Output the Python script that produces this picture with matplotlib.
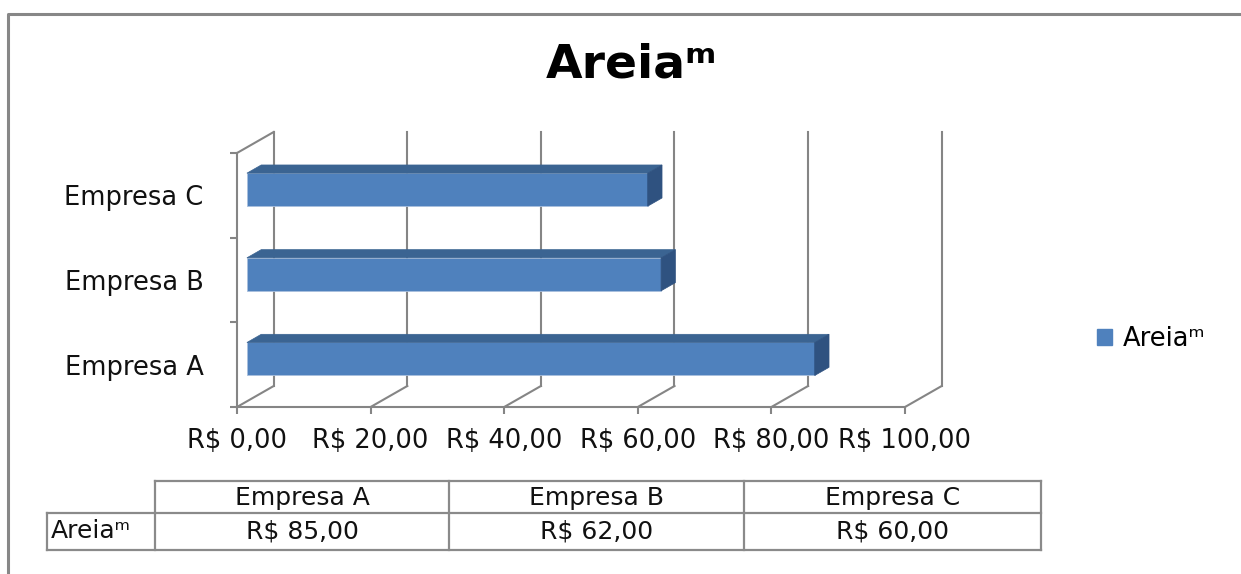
import numpy as np
import matplotlib.pyplot as plt
from matplotlib.patches import Patch, Polygon

plt.rcParams['font.family'] = ['DejaVu Sans']

categories = ['Empresa A', 'Empresa B', 'Empresa C']
values = [85, 62, 60]
series_name = 'Areia\u1d50'
x_ticks = [0, 20, 40, 60, 80, 100]


def brl(v):
    return 'R$ {:.2f}'.format(v).replace('.', ',')


W, H = 1241, 574
fig = plt.figure(figsize=(W / 100, H / 100), dpi=100)

# overlay in pixel coords for frame + data table
bg = fig.add_axes([0, 0, 1, 1], zorder=0)
bg.set_xlim(0, W)
bg.set_ylim(H, 0)
bg.axis('off')

frame_c = '#878787'
bg.plot([8, 8, W], [H, 14, 14], color=frame_c, lw=2.2, solid_capstyle='butt')

# front plane of the 3d plot
x0, x1, y_top, y_bot = 237, 905, 153, 407
ax = fig.add_axes([x0 / W, 1 - y_bot / H, (x1 - x0) / W, (y_bot - y_top) / H], zorder=2)
ax.set_xlim(0, 100)
ax.set_ylim(-0.5, 2.5)
ax.patch.set_alpha(0)

# depth of the box in data units
px_x = (x1 - x0) / 100.0
px_y = (y_bot - y_top) / 3.0
DX = 36.7 / px_x
DY = 21.0 / px_y

grid_c = '#858585'
lw = 1.5
ax.spines[['top', 'right']].set_visible(False)
for s in ['left', 'bottom']:
    ax.spines[s].set_color(grid_c)
    ax.spines[s].set_linewidth(lw)

# back wall verticals and floor diagonals
for v in x_ticks:
    ax.plot([v + DX, v + DX], [-0.5 + DY, 2.5 + DY], color=grid_c, lw=lw, clip_on=False, zorder=1)
    ax.plot([v, v + DX], [-0.5, -0.5 + DY], color=grid_c, lw=lw, clip_on=False, zorder=1)
ax.plot([0, DX], [2.5, 2.5 + DY], color=grid_c, lw=lw, clip_on=False, zorder=1)

# bars with a fake 3d look
t0, t1 = 0.27, 0.66
h = 33.0 / px_y
front_c, top_c, side_c = '#4F81BD', '#3B6492', '#2F5280'
ypos = np.arange(len(categories))
yb = ypos - h / 2 + t0 * DY
ax.barh(yb, values, height=h, left=t0 * DX, align='edge', color=front_c,
        edgecolor='#A9C0DE', linewidth=0.6, zorder=3, clip_on=False)
for yy, v in zip(yb, values):
    xl, xr = t0 * DX, v + t0 * DX
    ddx, ddy = (t1 - t0) * DX, (t1 - t0) * DY
    ax.add_patch(Polygon([(xl, yy + h), (xr, yy + h), (xr + ddx, yy + h + ddy), (xl + ddx, yy + h + ddy)],
                         closed=True, facecolor=top_c, edgecolor=top_c, lw=0.5, zorder=3, clip_on=False))
    ax.add_patch(Polygon([(xr, yy), (xr + ddx, yy + ddy), (xr + ddx, yy + h + ddy), (xr, yy + h)],
                         closed=True, facecolor=side_c, edgecolor=side_c, lw=0.5, zorder=3, clip_on=False))

fs = 18.5
txt_c = '#111111'
ax.set_xticks(x_ticks)
ax.set_xticklabels([brl(v) for v in x_ticks], fontsize=fs, color=txt_c)
ax.tick_params(axis='x', direction='out', length=5, width=lw, color=grid_c, pad=10)
ax.set_yticks(ypos)
ax.set_yticklabels(categories, fontsize=fs, color=txt_c)
ax.tick_params(axis='y', which='major', length=0, pad=24)
ax.set_yticks([-0.5, 0.5, 1.5, 2.5], minor=True)
ax.tick_params(axis='y', which='minor', direction='out', length=5, width=lw, color=grid_c)

fig.text(632 / W, 1 - 65 / H, series_name, ha='center', va='center',
         fontsize=34, fontweight='bold', color='black')

fig.legend(handles=[Patch(facecolor=front_c, edgecolor=front_c, label=series_name)],
           loc='center left', bbox_to_anchor=(1097 / W, 1 - 339 / H), frameon=False,
           fontsize=fs, handlelength=0.6, handleheight=0.6, handletextpad=0.4,
           borderpad=0, borderaxespad=0)

# data table
tc = '#8a8a8a'
cols = [155, 449, 744, 1041]
r0, r1, r2 = 481, 513, 550
rh_x = 47
bg.plot([cols[0], cols[-1]], [r0, r0], color=tc, lw=1.6)
bg.plot([rh_x, cols[-1]], [r1, r1], color=tc, lw=1.6)
bg.plot([rh_x, cols[-1]], [r2, r2], color=tc, lw=1.6)
for cx in cols:
    bg.plot([cx, cx], [r0, r2], color=tc, lw=1.6)
bg.plot([rh_x, rh_x], [r1, r2], color=tc, lw=1.6)
tfs = 18
for i, (cat, v) in enumerate(zip(categories, values)):
    cx = (cols[i] + cols[i + 1]) / 2
    bg.text(cx, (r0 + r1) / 2 + 1, cat, ha='center', va='center', fontsize=tfs, color=txt_c)
    bg.text(cx, (r1 + r2) / 2, brl(v), ha='center', va='center', fontsize=tfs, color=txt_c)
bg.text(rh_x + 4, (r1 + r2) / 2, series_name, ha='left', va='center', fontsize=18, color=txt_c)

fig.savefig('out.png', dpi=100)
